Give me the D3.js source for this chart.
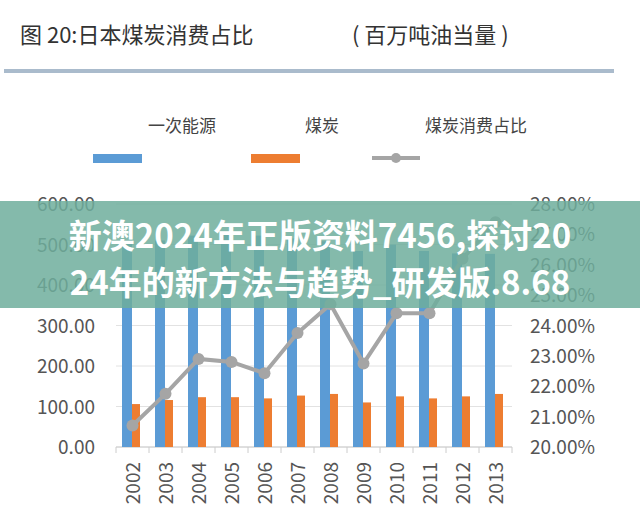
<!DOCTYPE html><html><head><meta charset="utf-8"><script src="https://cdn.jsdelivr.net/npm/d3@7"></script>
<style>body{margin:0;background:#fff}text{font-family:"Noto Sans CJK SC","Noto Sans",sans-serif}</style></head><body><svg id="c" width="640" height="511"></svg>
<script>
const years=["2002","2003","2004","2005","2006","2007","2008","2009","2010","2011","2012","2013"];
const primary=[510,510,522,524,522,515,508,484,500,484,478,477];
const coal=[106,116,123,123,120,127,131,110,125,120,125,131];
const share=[20.71,21.75,22.9,22.8,22.43,23.75,24.7,22.75,24.4,24.4,26.2,27.4];
const leftTicks=[0,100,200,300,400,500,600];
const rightTicks=[20,21,22,23,24,25,26,27,28];
const svg=d3.select("#c");
const x=d3.scaleBand().domain(years).range([116,512]);
const yL=d3.scaleLinear().domain([0,600]).range([447,204]);
const yR=d3.scaleLinear().domain([20,28]).range([447,204]);
svg.append("text").attr("x",20).attr("y",43).attr("font-size",22).attr("fill","#333").text("图 20:日本煤炭消费占比");
svg.append("text").attr("x",352).attr("y",43).attr("font-size",22).attr("fill","#333").text("( 百万吨油当量 )");
svg.append("rect").attr("x",4).attr("y",69).attr("width",610).attr("height",4).attr("fill","#aabbcc");
const leg=[["一次能源",148,"#5b9bd5",93],["煤炭",305,"#ed7d31",251],["煤炭消费占比",425,"#a5a5a5",372]];
leg.forEach((l,i)=>{svg.append("text").attr("x",l[1]).attr("y",132).attr("font-size",17).attr("fill","#444").text(l[0]);
 if(i<2)svg.append("rect").attr("x",l[3]).attr("y",154).attr("width",49).attr("height",9).attr("fill",l[2]);
 else{svg.append("line").attr("x1",l[3]).attr("x2",l[3]+48).attr("y1",158).attr("y2",158).attr("stroke",l[2]).attr("stroke-width",4);
 svg.append("circle").attr("cx",l[3]+24).attr("cy",158).attr("r",5).attr("fill",l[2]);}});
svg.append("g").selectAll("line").data(leftTicks).join("line").attr("x1",116).attr("x2",512).attr("y1",d=>yL(d)).attr("y2",d=>yL(d)).attr("stroke","#e2e2e2");
svg.append("g").selectAll("text").data(leftTicks).join("text").attr("x",95).attr("y",d=>yL(d)+7).attr("text-anchor","end").attr("font-size",19).attr("fill","#555").text(d=>d.toFixed(2));
svg.append("g").selectAll("text").data(rightTicks).join("text").attr("x",530).attr("y",d=>yR(d)+7).attr("font-size",19).attr("fill","#555").text(d=>d.toFixed(2)+"%");
svg.append("line").attr("x1",116).attr("x2",512).attr("y1",447).attr("y2",447).attr("stroke","#ccc");
svg.append("g").selectAll("line").data(years.concat(["end"])).join("line").attr("x1",(d,i)=>116+i*x.bandwidth()).attr("x2",(d,i)=>116+i*x.bandwidth()).attr("y1",447).attr("y2",453).attr("stroke","#ccc");
svg.append("g").selectAll("rect").data(primary).join("rect").attr("x",(d,i)=>x(years[i])+6).attr("width",10).attr("y",d=>yL(d)).attr("height",d=>447-yL(d)).attr("fill","#5b9bd5");
svg.append("g").selectAll("rect").data(coal).join("rect").attr("x",(d,i)=>x(years[i])+16).attr("width",8).attr("y",d=>yL(d)).attr("height",d=>447-yL(d)).attr("fill","#ed7d31");
const line=d3.line().x((d,i)=>x(years[i])+x.bandwidth()/2).y(d=>yR(d));
svg.append("path").attr("d",line(share)).attr("fill","none").attr("stroke","#a5a5a5").attr("stroke-width",4);
svg.append("g").selectAll("circle").data(share).join("circle").attr("cx",(d,i)=>x(years[i])+x.bandwidth()/2).attr("cy",d=>yR(d)).attr("r",6).attr("fill","#a5a5a5");
svg.append("g").selectAll("text").data(years).join("text").attr("transform",d=>`translate(${x(d)+x.bandwidth()/2+7},${462}) rotate(-90)`).attr("text-anchor","end").attr("font-size",19).attr("fill","#555").text(d=>d);
svg.append("rect").attr("x",0).attr("y",201).attr("width",640).attr("height",107).attr("fill","#6fae9c").attr("opacity",0.85);
["新澳2024年正版资料7456,探讨20","24年的新方法与趋势_研发版.8.68"].forEach((t,i)=>svg.append("text").attr("x",320).attr("y",248+i*47).attr("text-anchor","middle").attr("font-size",33).attr("font-weight","bold").attr("fill","#fff").text(t));
</script></body></html>
